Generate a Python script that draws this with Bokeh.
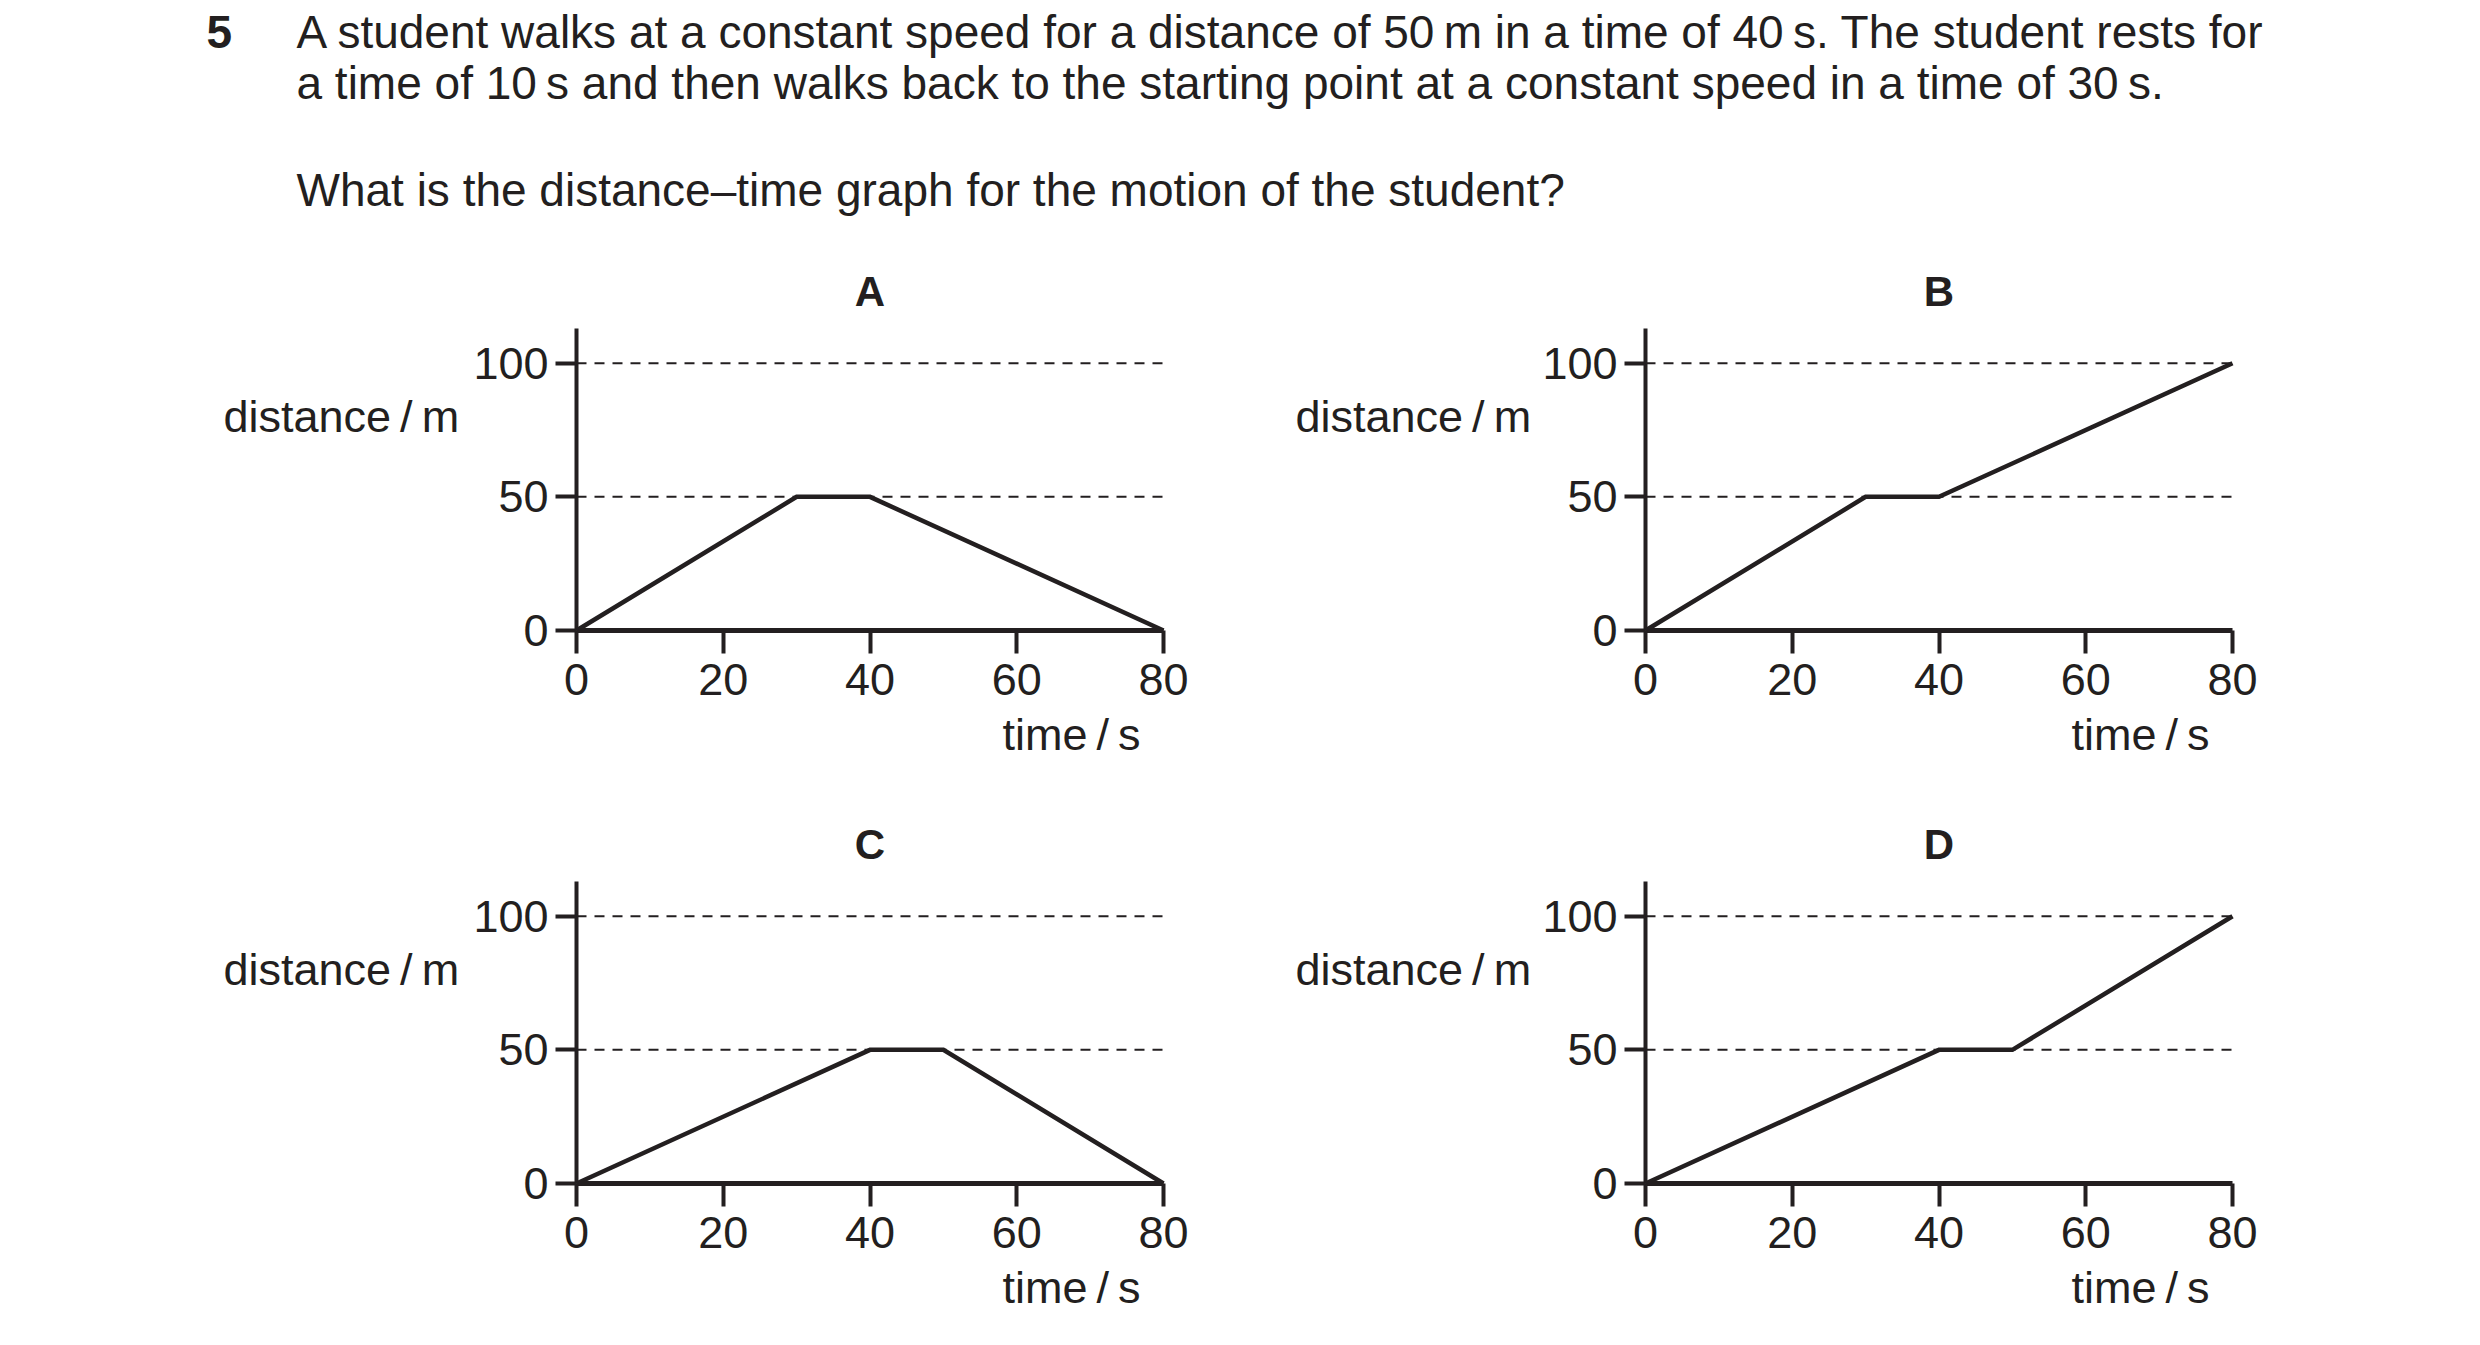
from bokeh.plotting import figure
from bokeh.layouts import column, row
from bokeh.models import Range1d, FixedTicker, Label
from bokeh.embed import file_html
from bokeh.resources import INLINE

INK = "#231f20"
FONT = "Liberation Sans"

# question text
question_no = "5"
question_lines = [
    "A student walks at a constant speed for a distance of 50\u2009m in a time of 40\u2009s. The student rests for",
    "a time of 10\u2009s and then walks back to the starting point at a constant speed in a time of 30\u2009s.",
    "What is the distance\u2013time graph for the motion of the student?",
]

# the four answer graphs (time in s, distance in m)
time_A = [0, 30, 40, 80]
dist_A = [0, 50, 50, 0]
time_B = [0, 30, 40, 80]
dist_B = [0, 50, 50, 100]
time_C = [0, 40, 50, 80]
dist_C = [0, 50, 50, 0]
time_D = [0, 40, 50, 80]
dist_D = [0, 50, 50, 100]

x_ticks = [0, 20, 40, 60, 80]
y_ticks = [0, 50, 100]
dashed_levels = [50, 100]
y_top = 113
x_label = "time\u2009/\u2009s"
y_label = "distance\u2009/\u2009m"

# pixel size of the axes box
BOX_W = 587
BOX_H = 302


def make_panel(name, t, d, width, left, height, bottom, label_dx):
    sx = BOX_W / x_ticks[-1]
    sy = BOX_H / y_top
    p = figure(width=width, height=height, title=None,
               x_range=Range1d(-left / sx, (width - left) / sx),
               y_range=Range1d(-bottom / sy, (height - bottom) / sy),
               min_border=0, output_backend="svg", toolbar_location=None)
    p.outline_line_color = None
    p.background_fill_color = "white"
    p.border_fill_color = "white"
    p.grid.visible = False

    p.xaxis.ticker = FixedTicker(ticks=x_ticks)
    p.yaxis.ticker = FixedTicker(ticks=y_ticks)
    p.xaxis.fixed_location = 0
    p.yaxis.fixed_location = 0
    p.xaxis.bounds = (x_ticks[0], x_ticks[-1])
    p.yaxis.bounds = (0, y_top)
    for ax in (p.xaxis, p.yaxis):
        ax.major_tick_in = 0
        ax.minor_tick_line_color = None
        ax.axis_line_color = INK
        ax.major_tick_line_color = INK
        ax.major_tick_line_width = 4
        ax.major_label_text_font = FONT
        ax.major_label_text_font_size = "45px"
        ax.major_label_text_color = INK
    p.xaxis.major_tick_out = 23
    p.xaxis.axis_line_width = 5
    p.xaxis.major_label_standoff = 10
    p.yaxis.major_tick_out = 21
    p.yaxis.axis_line_width = 4
    p.yaxis.major_label_standoff = 7

    # dashed reference lines
    n = len(dashed_levels)
    p.segment(x0=[x_ticks[0]] * n, x1=[x_ticks[-1]] * n, y0=dashed_levels, y1=dashed_levels,
              line_color=INK, line_width=2, line_dash="10 8")

    p.line(t, d, line_width=4.5, line_color=INK, line_join="miter")

    p.add_layout(Label(x=40, y=y_top, y_offset=37, text=name, text_align="center",
                       text_baseline="alphabetic", text_font=FONT, text_font_size="42px",
                       text_font_style="bold", text_color=INK))
    p.add_layout(Label(x=0, y=75, x_offset=label_dx, y_offset=14, text=y_label,
                       text_align="left", text_baseline="alphabetic", text_font=FONT,
                       text_font_size="45px", text_color=INK))
    p.add_layout(Label(x=x_ticks[-1], y=0, x_offset=-23, y_offset=-104, text=x_label,
                       text_align="right", text_baseline="alphabetic", text_font=FONT,
                       text_font_size="45px", text_color=INK))
    return p


hdr = figure(width=2464, height=265, title=None,
             x_range=Range1d(0, 2464), y_range=Range1d(0, 265),
             x_axis_type=None, y_axis_type=None, min_border=0,
             output_backend="svg", toolbar_location=None)
hdr.outline_line_color = None
hdr.add_layout(Label(x=206, y=234, text=question_no, text_baseline="alphabetic",
                     text_font=FONT, text_font_size="46px", text_font_style="bold",
                     text_color=INK))
for txt, yy in zip(question_lines, [234, 183, 76]):
    hdr.add_layout(Label(x=296, y=yy, text=txt, text_baseline="alphabetic",
                         text_font=FONT, text_font_size="46px", text_color=INK))

pA = make_panel("A", time_A, dist_A, 1240, 576, 553, 188, -353)
pB = make_panel("B", time_B, dist_B, 1224, 405, 553, 188, -350)
pC = make_panel("C", time_C, dist_C, 1240, 576, 515, 150, -353)
pD = make_panel("D", time_D, dist_D, 1224, 405, 515, 150, -350)

layout = column(hdr, row(pA, pB), row(pC, pD))

open("out.html", "w").write(file_html(layout, INLINE))
